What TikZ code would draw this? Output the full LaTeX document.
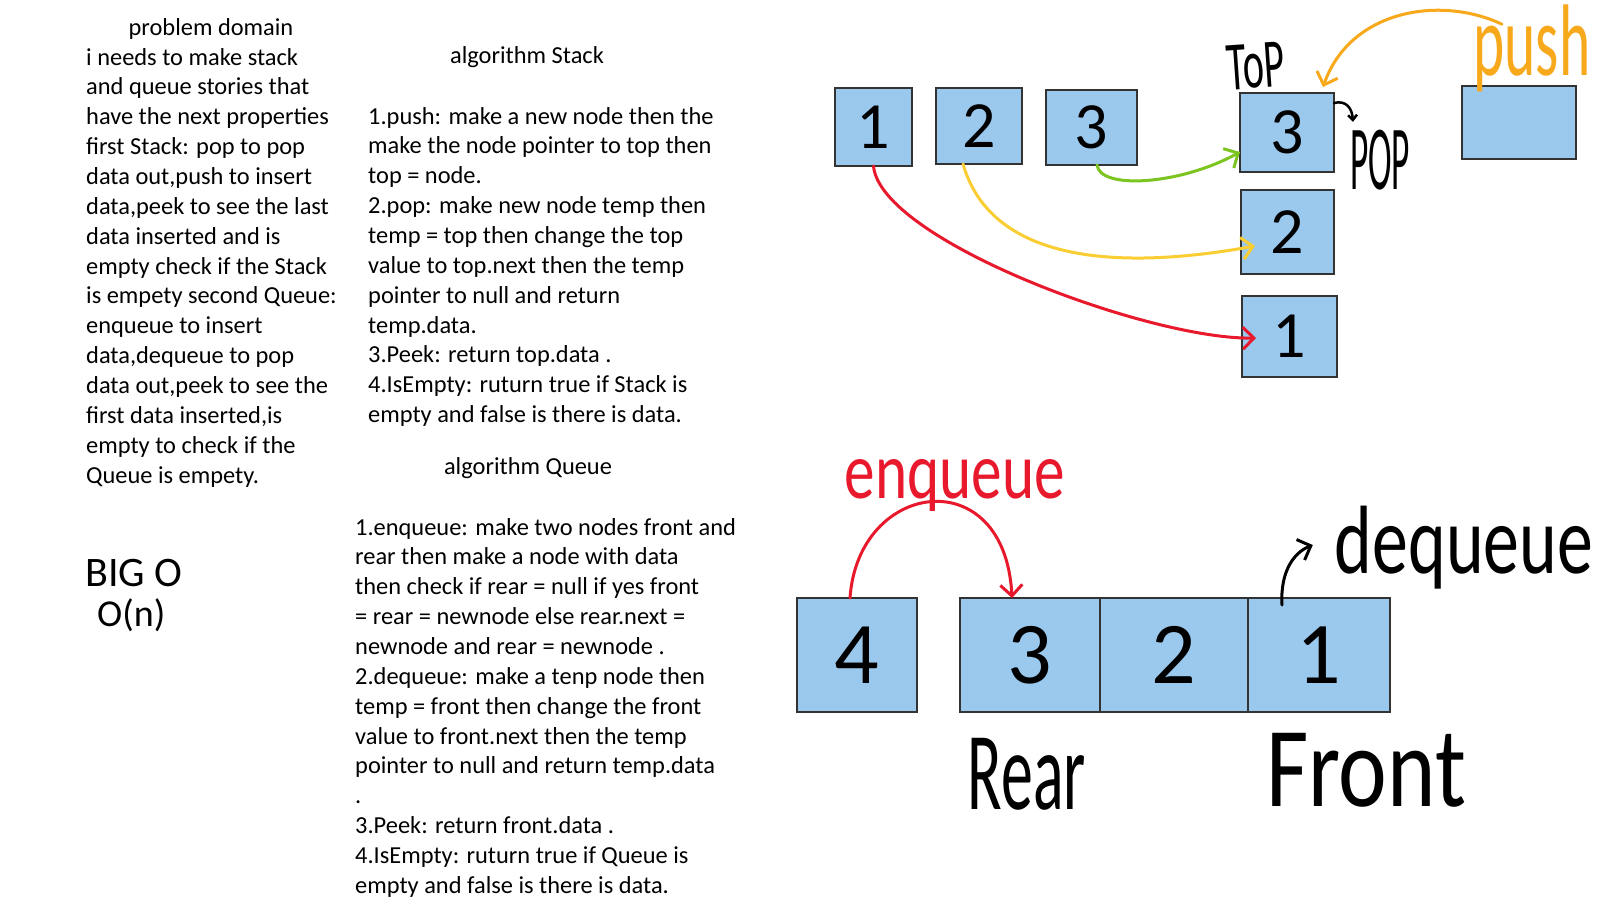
\documentclass[tikz,border=0pt]{standalone}
\usepackage{fontspec}
\usepackage{graphicx}
\setmainfont{Carlito}
\usetikzlibrary{arrows.meta}
\definecolor{boxblue}{RGB}{155,200,237}
\definecolor{boxline}{RGB}{51,51,51}
\definecolor{penred}{RGB}{232,25,44}
\definecolor{penorange}{RGB}{247,168,27}
\definecolor{penyellow}{RGB}{250,205,50}
\definecolor{pengreen}{RGB}{124,197,32}
\tikzset{
  box/.style={draw=boxline, line width=2pt, fill=boxblue, inner sep=0pt, outer sep=0pt, rectangle},
  txt/.style={inner sep=0pt, font=\fontsize{24.4}{29.87}\selectfont},
  hdr/.style={inner sep=0pt, font=\fontsize{24.4}{29.87}\selectfont},
  dig/.style={font=\fontsize{66}{66}\selectfont},
  qdig/.style={font=\fontsize{88}{88}\selectfont},
  hand/.style={inner sep=0pt},
  pen/.style={line width=3pt, line cap=round, line join=round},
  tip/.style={-{Straight Barb[length=11pt,width=22pt,line width=3pt]}},
}
\begin{document}
\begin{tikzpicture}[x=1pt,y=-1pt]
\useasboundingbox (0,0) rectangle (1607,910);
\fill[white] (0,0) rectangle (1607,910);

% ---------- left column ----------
\node[hdr, anchor=base] (pdh) at (211,35) {problem domain};
\foreach \tx [count=\i from 0] in {
  {i needs to make stack},
  {and queue stories that},
  {have the next properties},
  {first Stack: pop to pop},
  {data out,push to insert},
  {data,peek to see the last},
  {data inserted and is},
  {empty check if the Stack},
  {is empety second Queue:},
  {enqueue to insert},
  {data,dequeue to pop},
  {data out,peek to see the},
  {first data inserted,is},
  {empty to check if the},
  {Queue is empety.}}
  \node[txt, anchor=base west] (pd\i) at (86,65+29.87*\i) {\tx};

\node[inner sep=0pt, anchor=base west, font=\fontsize{42}{42}\selectfont] (bigo) at (85,586) {BIG O};
\node[inner sep=0pt, anchor=base west, font=\fontsize{38}{38}\selectfont] (on) at (97,626) {O(n)};

% ---------- algorithm Stack ----------
\node[hdr, anchor=base] (ash) at (527,63) {algorithm Stack};
\foreach \tx [count=\i from 0] in {
  {1.push: make a new node then the},
  {make the node pointer to top then},
  {top = node.},
  {2.pop: make new node temp then},
  {temp = top then change the top},
  {value to top.next then the temp},
  {pointer to null and return},
  {temp.data.},
  {3.Peek: return top.data .},
  {4.IsEmpty: ruturn true if Stack is},
  {empty and false is there is data.}}
  \node[txt, anchor=base west] (as\i) at (368,124+29.87*\i) {\tx};

% ---------- algorithm Queue ----------
\node[hdr, anchor=base] (aqh) at (528,474) {algorithm Queue};
\foreach \tx [count=\i from 0] in {
  {1.enqueue: make two nodes front and},
  {rear then make a node with data},
  {then check if rear = null if yes front},
  {= rear = newnode else rear.next =},
  {newnode and rear = newnode .},
  {2.dequeue: make a tenp node then},
  {temp = front then change the front},
  {value to front.next then the temp},
  {pointer to null and return temp.data},
  {.},
  {3.Peek: return front.data .},
  {4.IsEmpty: ruturn true if Queue is},
  {empty and false is there is data.}}
  \node[txt, anchor=base west] (aq\i) at (355,535+29.87*\i) {\tx};

% ---------- stack diagram ----------
\node[box, minimum width=77, minimum height=78, dig] (s1) at (873.5,127) {1};
\node[box, minimum width=86, minimum height=76, dig] (s2) at (979,126) {2};
\node[box, minimum width=91, minimum height=75, dig] (s3) at (1091.5,127.5) {3};
\node[box, minimum width=94, minimum height=79, dig] (t3) at (1287,132.5) {3};
\node[box, minimum width=93, minimum height=84, dig] (t2) at (1287.5,232) {2};
\node[box, minimum width=95, minimum height=81, dig] (t1) at (1289.5,336.5) {1};
\node[box, minimum width=114, minimum height=73] (pb) at (1519,122.5) {};

\node[hand, rotate=4] (top) at (1256,66) {\resizebox*{58pt}{45pt}{ToP}};
\node[hand] (pop) at (1380,160) {\resizebox*{60pt}{60pt}{POP}};
\node[hand, text=penorange] (push) at (1532,48) {\resizebox*{117pt}{87pt}{push}};

\draw[pen, tip, pengreen] ([xshift=5.5pt]s3.south) .. controls (1100,190) and (1180,185) .. ([yshift=20pt]t3.south west);
\draw[pen, tip, penyellow] ([xshift=-16pt]s2.south) .. controls (995,275) and (1150,265) .. ([xshift=14pt,yshift=-14pt]t2.west);
\draw[pen, tip, penred] (s1.south) .. controls (880,240) and (1150,340) .. ([xshift=14pt,yshift=-1.5pt]t1.west);
\draw[pen, tip, penorange] ([xshift=-30pt,yshift=-20pt]push.north) .. controls (1440,-5) and (1350,10) .. ([xshift=-11pt,yshift=6pt]t3.north east);
\draw[pen, -{Straight Barb[length=5pt,width=9pt,line width=2.5pt]}, black, line width=2.5pt] ([yshift=-10pt]t3.north east) .. controls (1346,100) and (1352,108) .. ([xshift=-27pt,yshift=8pt]pop.north);

% ---------- queue diagram ----------
\node[box, minimum width=120, minimum height=114, qdig] (q4) at (857,655) {4};
\node[box, minimum width=140, minimum height=114, qdig] (q3) at (1030,655) {3};
\node[box, minimum width=148, minimum height=114, qdig] (q2) at (1174,655) {2};
\node[box, minimum width=142, minimum height=114, qdig] (q1) at (1319,655) {1};

\node[hand, text=penred] (enq) at (955,485) {\resizebox*{220pt}{52pt}{enqueue}};
\node[hand] (deq) at (1464,548) {\resizebox*{258pt}{83pt}{dequeue}};
\node[hand] (rear) at (1027,774) {\resizebox*{118pt}{72pt}{Rear}};
\node[hand] (front) at (1366,770) {\resizebox*{200pt}{74pt}{Front}};

\draw[pen, tip, penred] ([xshift=-7pt]q4.north) .. controls (858,480) and (1005,460) .. ([xshift=52pt]q3.north west);
\draw[pen, tip, black] ([xshift=34pt,yshift=-7pt]q1.north west) .. controls (1280,570) and (1295,552) .. ([xshift=-22pt,yshift=3pt]deq.west);
\end{tikzpicture}
\end{document}
